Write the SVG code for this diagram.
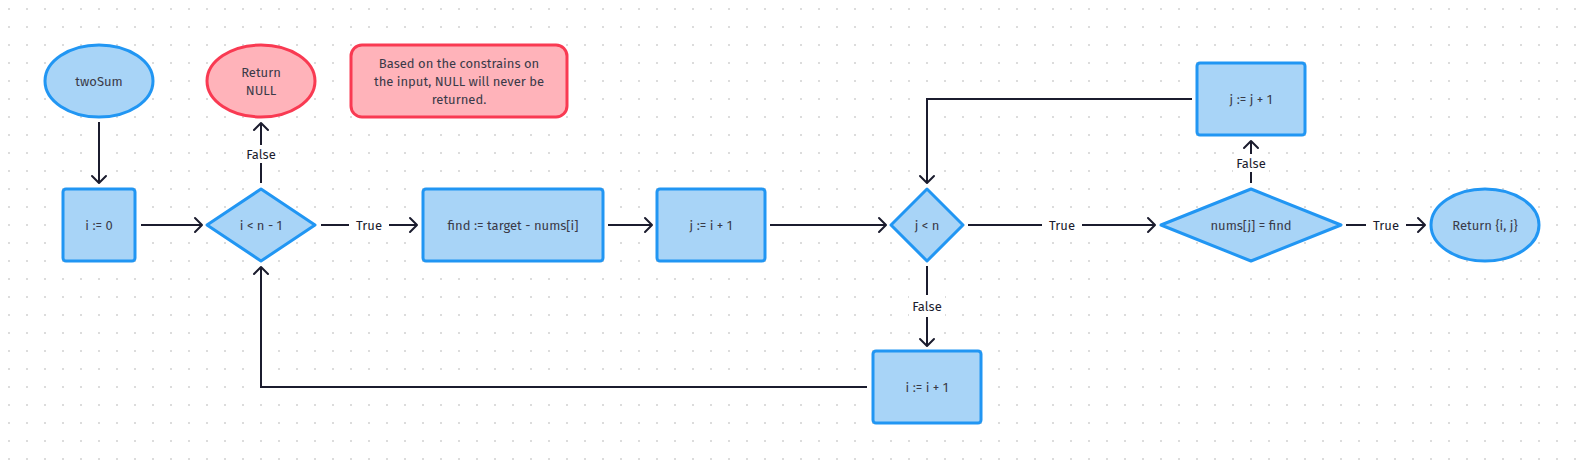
<svg xmlns="http://www.w3.org/2000/svg" width="1584" height="468" viewBox="0 0 1584 468">
<defs>
<pattern id="grid" x="0" y="0" width="18" height="18" patternUnits="userSpaceOnUse">
<rect x="8" y="8" width="2" height="2" fill="#dcdcdc"/>
</pattern>
<marker id="arr" viewBox="-10 -10 12 20" markerWidth="12" markerHeight="20" refX="0" refY="0" orient="auto" markerUnits="userSpaceOnUse">
<path d="M-7,-7 L0,0 L-7,7" fill="none" stroke="#1b1c2e" stroke-width="2" stroke-linecap="round" stroke-linejoin="round"/>
</marker>
<style>
.blue{fill:#a8d4f7;stroke:#2196f3;stroke-width:3;stroke-linejoin:round}
.red{fill:#ffb3ba;stroke:#f93a52;stroke-width:3;stroke-linejoin:round}
.t{font-family:"Fira Sans","Open Sans","Noto Sans",sans-serif;font-size:13px;fill:#3a3a48;text-anchor:middle;dominant-baseline:central}
.e{fill:none;stroke:#1b1c2e;stroke-width:2}
.lb{fill:#ffffff}
.lt{font-family:"Fira Sans","Open Sans","Noto Sans",sans-serif;font-size:13px;fill:#1b1c2e;text-anchor:middle;dominant-baseline:central}
</style>
</defs>
<rect width="1584" height="468" fill="#ffffff"/>
<rect width="1584" height="468" fill="url(#grid)"/>

<g id="connectors">
<path class="e" d="M99,122 V183" marker-end="url(#arr)"/>
<path class="e" d="M141,225 H202" marker-end="url(#arr)"/>
<path class="e" d="M261,183 V123" marker-end="url(#arr)"/>
<path class="e" d="M321,225 H417" marker-end="url(#arr)"/>
<path class="e" d="M608,225 H652" marker-end="url(#arr)"/>
<path class="e" d="M770,225 H886" marker-end="url(#arr)"/>
<path class="e" d="M968,225 H1155" marker-end="url(#arr)"/>
<path class="e" d="M1346,225 H1425" marker-end="url(#arr)"/>
<path class="e" d="M1251,183 V141" marker-end="url(#arr)"/>
<path class="e" d="M1192,99 H927 V183" marker-end="url(#arr)"/>
<path class="e" d="M927,266 V346" marker-end="url(#arr)"/>
<path class="e" d="M867,387 H261 V267" marker-end="url(#arr)"/>
<g id="edge-labels">
<rect class="lb" x="243" y="145" width="36" height="18"/>
<text class="lt" x="261" y="154">False</text>
<rect class="lb" x="349" y="216" width="40" height="18"/>
<text class="lt" x="369" y="225">True</text>
<rect class="lb" x="1042" y="216" width="40" height="18"/>
<text class="lt" x="1062" y="225">True</text>
<rect class="lb" x="1366" y="216" width="40" height="18"/>
<text class="lt" x="1386" y="225">True</text>
<rect class="lb" x="1233" y="154" width="36" height="18"/>
<text class="lt" x="1251" y="163">False</text>
<rect class="lb" x="909" y="295" width="36" height="22"/>
<text class="lt" x="927" y="306">False</text>
</g>
</g>

<g id="twoSum">
<ellipse class="blue" cx="99" cy="81" rx="54" ry="36"/>
<text class="t" x="99" y="81">twoSum</text>
</g>
<g id="returnNull">
<ellipse class="red" cx="261" cy="81" rx="54" ry="36"/>
<text class="t" x="261" y="72">Return</text>
<text class="t" x="261" y="90">NULL</text>
</g>
<g id="note">
<rect class="red" x="351" y="45" width="216" height="72" rx="11"/>
<text class="t" x="459" y="63">Based on the constrains on</text>
<text class="t" x="459" y="81">the input, NULL will never be</text>
<text class="t" x="459" y="99">returned.</text>
</g>
<g id="initI">
<rect class="blue" x="63" y="189" width="72" height="72" rx="3"/>
<text class="t" x="99" y="225">i := 0</text>
</g>
<g id="condI">
<path class="blue" d="M261,189 L315,225 L261,261 L207,225 Z"/>
<text class="t" x="261" y="225">i &lt; n - 1</text>
</g>
<g id="find">
<rect class="blue" x="423" y="189" width="180" height="72" rx="3"/>
<text class="t" x="513" y="225">find := target - nums[i]</text>
</g>
<g id="initJ">
<rect class="blue" x="657" y="189" width="108" height="72" rx="3"/>
<text class="t" x="711" y="225">j := i + 1</text>
</g>
<g id="condJ">
<path class="blue" d="M927,189 L963,225 L927,261 L891,225 Z"/>
<text class="t" x="927" y="225">j &lt; n</text>
</g>
<g id="check">
<path class="blue" d="M1251,189 L1341,225 L1251,261 L1161,225 Z"/>
<text class="t" x="1251" y="225">nums[j] = find</text>
</g>
<g id="incJ">
<rect class="blue" x="1197" y="63" width="108" height="72" rx="3"/>
<text class="t" x="1251" y="99">j := j + 1</text>
</g>
<g id="returnIJ">
<ellipse class="blue" cx="1485" cy="225" rx="54" ry="36"/>
<text class="t" x="1485" y="225">Return {i, j}</text>
</g>
<g id="incI">
<rect class="blue" x="873" y="351" width="108" height="72" rx="3"/>
<text class="t" x="927" y="387">i := i + 1</text>
</g>
</svg>
